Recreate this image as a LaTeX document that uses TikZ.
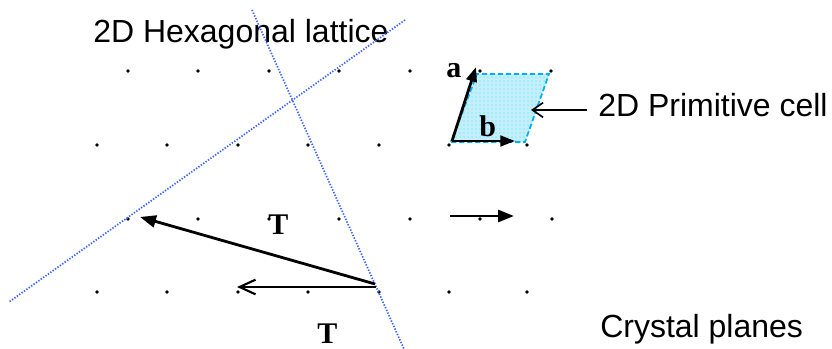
\documentclass[tikz,border=0pt]{standalone}
\usepackage{fontspec}
\setmainfont{Liberation Sans}
\newfontfamily\vecfont{Liberation Serif}
\usetikzlibrary{arrows.meta,patterns}

\tikzset{
  latdot/.style={circle,fill=black,inner sep=0pt,minimum size=2.7pt},
  planeline/.style={color={rgb,255:red,60;green,100;blue,255},line width=1.3pt,dash pattern=on 1pt off 1.2pt},
  vecarrow/.style={line width=2.1pt,-{Triangle[length=12pt,width=9pt]}},
  openarrow/.style={line width=1.6pt,-{Straight Barb[length=12pt,width=11pt]}},
  pointarrow/.style={line width=1.2pt,-{Straight Barb[length=8pt,width=11pt]}},
  bigtext/.style={anchor=base west,inner sep=0pt,font=\fontsize{24}{28}\selectfont},
  vectext/.style={anchor=base west,inner sep=0pt,font=\vecfont\bfseries\fontsize{22.5}{26}\selectfont},
  cellbox/.style={color=cyan,line width=1.3pt,dash pattern=on 4pt off 2pt,preaction={fill=cyan!22},pattern=dots,pattern color=cyan}
}

\begin{document}
\begin{tikzpicture}[x=0.75pt,y=0.75pt,yscale=-1,xscale=1]
\useasboundingbox (0,0) rectangle (832,349);

%Shape: Parallelogram (primitive cell)
\draw [cellbox] (451,142) -- (525,142) -- (549,74) -- (477,74) -- cycle;

% Lattice points
\foreach \x [count=\i] in {128,198,269,339,410,480,551}
  \node [latdot] (ra-\i) at (\x,71) {};
\foreach \x [count=\i] in {97,167,238,308,379,449,527}
  \node [latdot] (rb-\i) at (\x,145) {};
\foreach \x [count=\i] in {128,198,269,339,410,480,552}
  \node [latdot] (rc-\i) at (\x,219) {};
\foreach \x [count=\i] in {97,167,238,308,379,449,527}
  \node [latdot] (rd-\i) at (\x,292) {};

% Text Node
\node [bigtext] (hexLabel) at (93,43) {2D Hexagonal lattice};
% Text Node
\node [bigtext] (cellLabel) at (598,117) {2D Primitive cell};
% Text Node
\node [bigtext] (planesLabel) at (600,337) {Crystal planes};

%Crystal planes
\coordinate (planeA1) at (252,10);
\coordinate (planeA2) at (404,349);
\coordinate (planeB1) at (405,20);
\coordinate (planeB2) at (9,302);
\draw [planeline] (planeA1) -- (planeA2);
\draw [planeline] (planeB1) -- (planeB2);

%Primitive vectors
\coordinate (cellOrigin) at (452,141);
\coordinate (aEnd) at (476,67);
\coordinate (bEnd) at (515,141);
\draw [vecarrow,-{Triangle[length=11pt,width=8pt]}] (cellOrigin) -- (aEnd);
\draw [vecarrow,-{Triangle[length=11pt,width=8pt]}] (cellOrigin) -- (bEnd);
\node [vectext] (aLabel) at (446,78) {a};
\node [vectext] (bLabel) at (479,137) {b};

%Pointer to cell
\coordinate (pointStart) at (587,110);
\coordinate (pointEnd) at (531,110);
\draw [pointarrow] (pointStart) -- (pointEnd);

%Translation vectors
\coordinate (tOrigin) at (375,284);
\coordinate (tLongEnd) at (140,217);
\coordinate (tShortStart) at (376,287);
\coordinate (tShortEnd) at (237,287);
\draw [vecarrow] (tOrigin) -- (tLongEnd);
\draw [openarrow] (tShortStart) -- (tShortEnd);
\node [vectext] (tLongLabel) at (268,234) {T};
\node [vectext] (tShortLabel) at (317,343) {T};

%Single translation
\coordinate (shiftStart) at (450,216);
\coordinate (shiftEnd) at (514,216);
\draw [vecarrow] (shiftStart) -- (shiftEnd);

\end{tikzpicture}
\end{document}
